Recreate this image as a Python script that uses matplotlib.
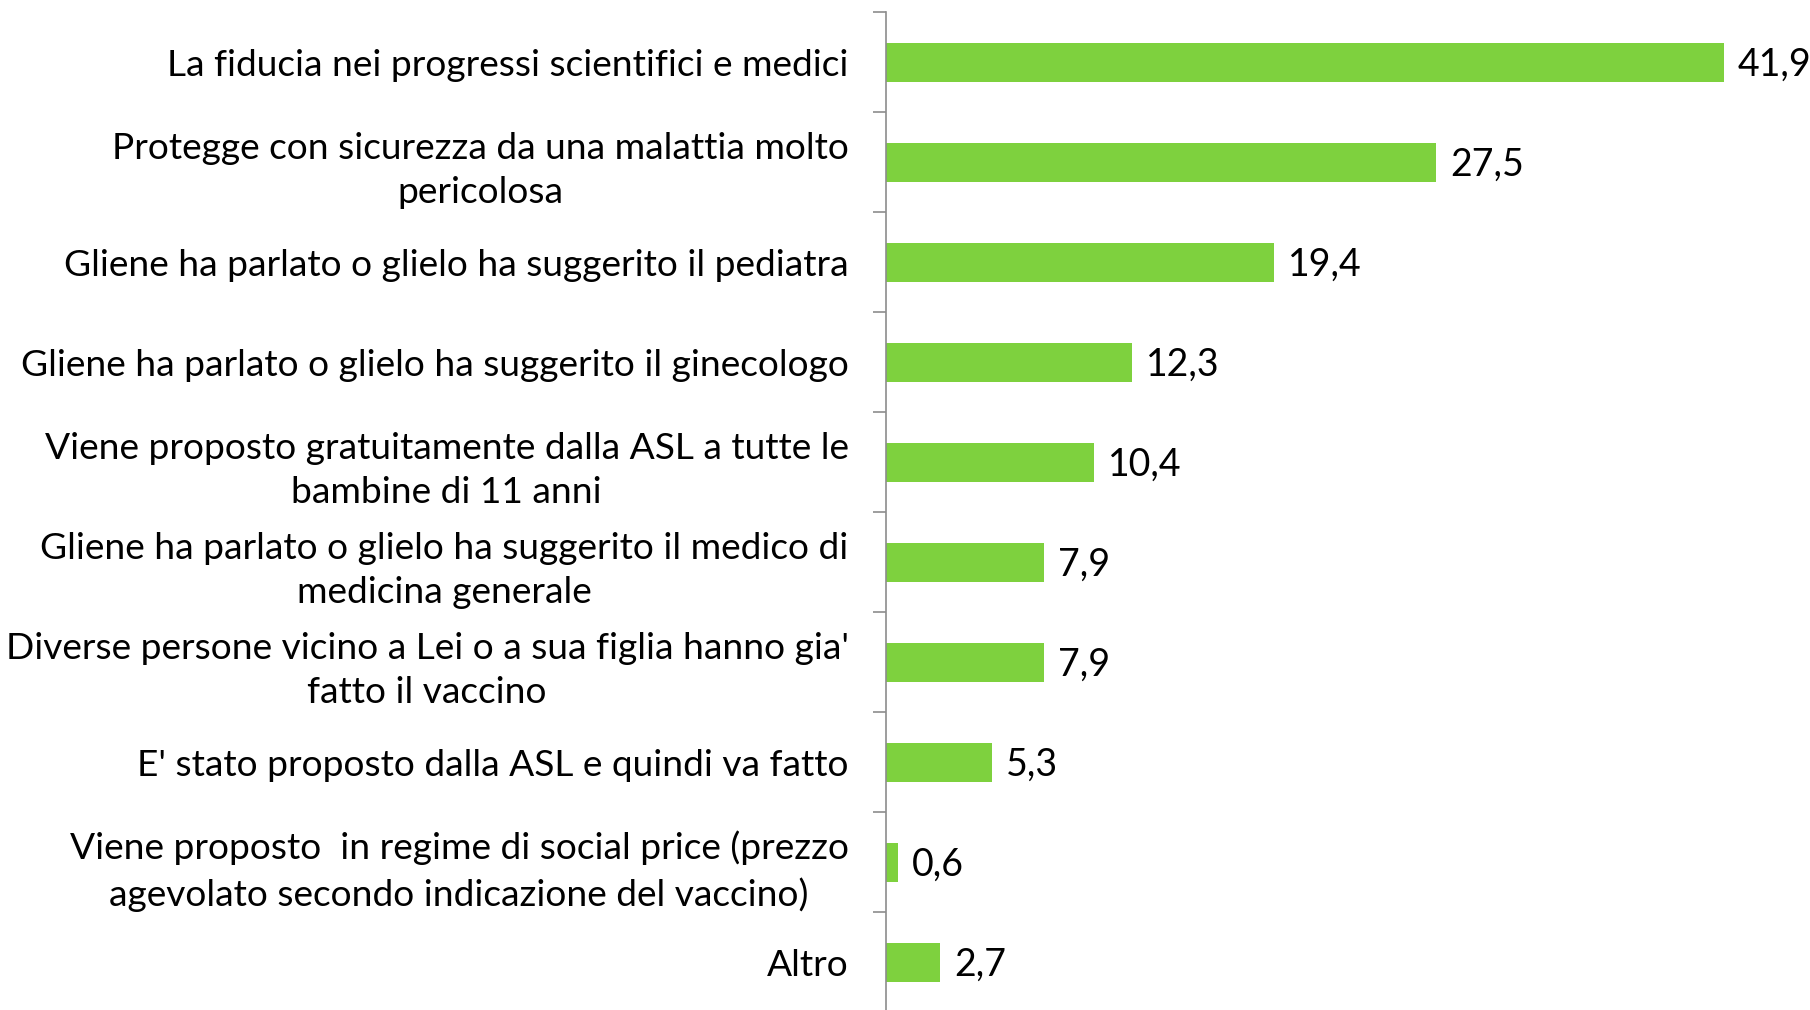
import numpy as np
import matplotlib.pyplot as plt

labels = [
    "La fiducia nei progressi scientifici e medici",
    "Protegge con sicurezza da una malattia molto\npericolosa",
    "Gliene ha parlato o glielo ha suggerito il pediatra",
    "Gliene ha parlato o glielo ha suggerito il ginecologo",
    "Viene proposto gratuitamente dalla ASL a tutte le\nbambine di 11 anni",
    "Gliene ha parlato o glielo ha suggerito il medico di\nmedicina generale",
    "Diverse persone vicino a Lei o a sua figlia hanno gia'\nfatto il vaccino",
    "E' stato proposto dalla ASL e quindi va fatto",
    "Viene proposto  in regime di social price (prezzo\nagevolato secondo indicazione del vaccino)",
    "Altro",
]
values = [41.9, 27.5, 19.4, 12.3, 10.4, 7.9, 7.9, 5.3, 0.6, 2.7]

plt.rcParams['font.family'] = ['Lato', 'DejaVu Sans']

fig = plt.figure(figsize=(18.1, 10.1), dpi=100)
ax = fig.add_axes([886 / 1810, -0.002, 1 - 886 / 1810, 0.990])

y = np.arange(len(values))
ax.barh(y, values, height=0.39, color='#7ED13E')

# value labels just right of each bar, decimal comma
for yi, v in zip(y, values):
    ax.text(v + 0.7, yi + 0.03, f"{v:.1f}".replace('.', ','), va='center', ha='left',
            fontsize=27, color='black')

ax.set_xlim(0, 46.2)
ax.set_ylim(len(values) - 0.5, -0.5)

ax.set_yticks(y)
ax.set_yticklabels(labels, fontsize=26.7, multialignment='center', linespacing=1.42)
ax.set_yticks(np.arange(len(values) + 1) - 0.5, minor=True)
ax.tick_params(axis='y', which='major', length=0, pad=27)
ax.tick_params(axis='y', which='minor', length=9.5, width=1.2, color='#8C8C8C', direction='out')
ax.set_xticks([])

for s in ['top', 'right', 'bottom']:
    ax.spines[s].set_visible(False)
ax.spines['left'].set_color('#8C8C8C')
ax.spines['left'].set_linewidth(1.2)

fig.savefig('out.png', dpi=100)
